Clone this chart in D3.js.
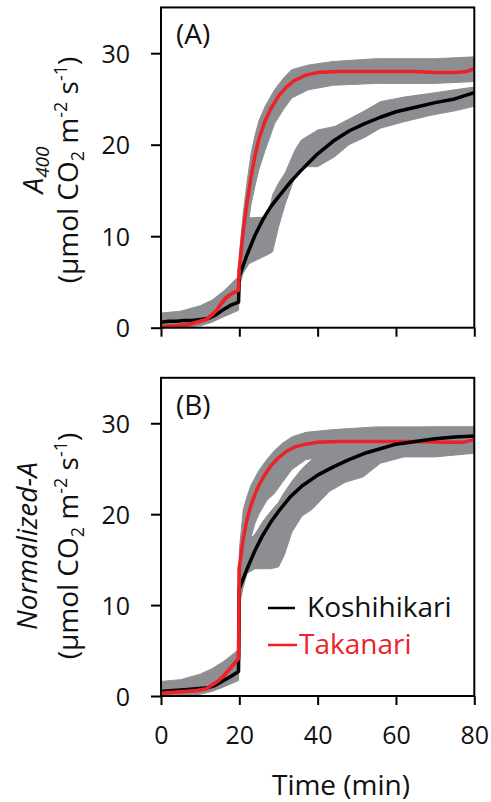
<!DOCTYPE html>
<html>
<head>
<meta charset="utf-8">
<script src="https://cdn.jsdelivr.net/npm/d3@7"></script>
<style>
  html, body { margin: 0; padding: 0; background: #fff; }
  svg { display: block; font-family: "Open Sans", "Liberation Sans", sans-serif; }
</style>
</head>
<body>
<svg id="chart" width="491" height="802"></svg>
<script>
// ---------------- DATA ----------------
const xTicks = [0, 20, 40, 60, 80];
const yTicks = [0, 10, 20, 30];
const seriesNames = ["Koshihikari", "Takanari"];

// Panel A: A400 — Koshihikari mean (time, value)
const koshiA_t = [0, 2, 4, 6, 8, 10, 12, 14, 16, 18, 19.8, 20, 22, 24, 26, 28, 30, 33, 36, 40, 44, 48, 52, 56, 60, 65, 70, 75, 80];
const koshiA_v = [0.6, 0.7, 0.7, 0.8, 0.8, 0.9, 1.0, 1.4, 2.0, 2.5, 2.8, 5.6, 8.0, 10.1, 11.8, 13.2, 14.3, 15.9, 17.3, 19.0, 20.4, 21.5, 22.3, 23.0, 23.6, 24.1, 24.6, 25.0, 25.7];
// Panel A: Koshihikari error band
const koshiBandA_t  = [0, 5, 10, 13, 16, 19.8, 20, 21, 22.5, 27.3, 28.5, 30, 31.7, 34.2, 35.8, 40, 44.4, 48, 52, 56, 62, 68.7, 75, 80];
const koshiBandA_lo = [0, 0, 0.2, 0.6, 1.2, 1.9, 4.5, 6.0, 7.0, 8.0, 8.3, 11.0, 13.5, 16.5, 17.6, 17.6, 18.7, 20.0, 20.8, 21.8, 22.5, 23.2, 23.7, 24.2];
const koshiBandA_hi = [1.6, 1.8, 2.4, 3.0, 4.0, 5.6, 7.0, 10.0, 12.0, 12.1, 14.5, 15.8, 16.9, 19.4, 20.5, 21.6, 22.0, 22.8, 23.7, 24.7, 25.2, 25.6, 26.0, 26.3];
// Panel A: Takanari mean
const takaA_t = [0, 3, 6.5, 9, 11.6, 13, 14.2, 15.5, 16.7, 18, 19.8, 20, 21, 22, 23, 24, 25, 26.5, 28, 30, 32, 34, 37, 40, 45, 50, 55, 60, 65, 70, 75, 78, 80];
const takaA_v = [0.1, 0.2, 0.3, 0.6, 0.9, 1.4, 1.9, 2.7, 3.3, 3.7, 4.1, 6.5, 10.5, 13.8, 16.5, 18.8, 20.6, 22.5, 23.9, 25.3, 26.3, 27.0, 27.6, 27.9, 28.0, 28.0, 28.0, 28.0, 28.0, 27.9, 27.9, 28.0, 28.3];
// Panel A: Takanari error band
const takaBandA_t  = [20, 21, 22, 23, 24, 25, 26.6, 29, 31.5, 33.4, 37.6, 44, 55, 70, 80];
const takaBandA_lo = [4.5, 7.5, 10.5, 13.5, 15.5, 17.3, 19.4, 22.3, 24.0, 25.1, 26.0, 26.5, 26.7, 26.7, 26.9];
const takaBandA_hi = [8.0, 12.5, 16.0, 19.0, 21.0, 22.6, 24.2, 26.0, 27.4, 28.2, 28.7, 29.1, 29.4, 29.4, 29.6];

// Panel B: Normalized-A — Koshihikari mean
const koshiB_t = [0, 3, 6, 9, 12, 14, 16, 18, 19.8, 20, 22, 24, 26, 28, 30, 33, 36, 40, 44, 48, 52, 56, 60, 65, 70, 75, 80];
const koshiB_v = [0.5, 0.6, 0.7, 0.8, 0.9, 1.2, 1.7, 2.2, 2.7, 11.8, 14.0, 16.0, 17.7, 19.1, 20.3, 21.9, 23.1, 24.3, 25.2, 26.0, 26.7, 27.2, 27.7, 28.0, 28.3, 28.5, 28.6];
// Panel B: Koshihikari error band
const koshiBandB_t  = [0, 5, 10, 13, 16, 19.8, 20, 21, 22, 24, 26, 28, 30, 31.5, 33.4, 36, 38.5, 43, 47, 51.6, 56, 62, 70, 80];
const koshiBandB_lo = [0, 0, 0.2, 0.5, 1.0, 1.7, 10.0, 12.0, 13.5, 14.0, 14.0, 14.0, 14.2, 15.5, 18.0, 19.8, 20.5, 22.5, 23.5, 24.1, 25.6, 26.3, 26.3, 26.7];
const koshiBandB_hi = [1.6, 1.8, 2.4, 3.0, 3.8, 5.1, 13.5, 15.5, 17.0, 17.8, 19.2, 20.3, 21.3, 22.4, 23.6, 25.0, 26.0, 27.0, 27.8, 28.5, 29.2, 29.5, 29.6, 29.6];
// Panel B: Takanari mean
const takaB_t = [0, 3, 6, 9, 11.6, 13, 14.5, 16, 18, 19.8, 20, 21, 22, 23, 24, 25, 26.6, 28, 30, 32, 34.2, 37, 40, 45, 55, 65, 72, 77, 80];
const takaB_v = [0.3, 0.4, 0.5, 0.6, 0.8, 1.2, 1.6, 2.2, 3.2, 4.1, 14.2, 17.3, 19.5, 21.0, 22.2, 23.2, 24.4, 25.3, 26.2, 26.9, 27.4, 27.7, 27.9, 28.0, 28.0, 28.0, 27.9, 27.9, 28.2];
// Panel B: Takanari error band
const takaBandB_t  = [20, 21, 22, 23, 24, 25, 27, 29, 31, 33.4, 37, 44, 55, 80];
const takaBandB_lo = [11.0, 13.5, 15.5, 17.5, 19.0, 20.0, 21.5, 22.3, 23.5, 24.9, 26.0, 26.5, 26.8, 26.8];
const takaBandB_hi = [16.0, 20.5, 22.0, 23.2, 24.0, 24.8, 26.0, 27.0, 27.8, 28.5, 29.0, 29.3, 29.6, 29.6];

// ---------------- STYLE ----------------
const RED = "#ec2227";
const BLACK = "#000000";
const GRAY = "#8d8e92";

const svg = d3.select("#chart");
const x = d3.scaleLinear().domain([0, 80]).range([161, 474.3]);

const zip = (t, v) => t.map((d, i) => [d, v[i]]);
const zipBand = (t, lo, hi) => t.map((d, i) => [d, lo[i], hi[i]]);

function panel(cfg) {
  const y = d3.scaleLinear().domain([0, 35]).range([cfg.bottom, cfg.top]);
  const g = svg.append("g");

  const area = d3.area().x(d => x(d[0])).y0(d => y(d[1])).y1(d => y(d[2]));
  const line = d3.line().x(d => x(d[0])).y(d => y(d[1]));

  // bands
  [cfg.koshiBand, cfg.takaBand].forEach(b => {
    g.append("path").datum(b).attr("d", area)
      .attr("fill", GRAY).attr("stroke", GRAY).attr("stroke-width", 1);
  });
  // lines
  g.append("path").datum(cfg.taka).attr("d", line)
    .attr("fill", "none").attr("stroke", RED).attr("stroke-width", 3.5).attr("stroke-linejoin", "round");
  g.append("path").datum(cfg.koshi).attr("d", line)
    .attr("fill", "none").attr("stroke", BLACK).attr("stroke-width", 3.5).attr("stroke-linejoin", "round");
  if (cfg.redOnTop) {
    g.append("path").datum(cfg.taka.filter(d => d[0] <= 20)).attr("d", line)
      .attr("fill", "none").attr("stroke", RED).attr("stroke-width", 3.5).attr("stroke-linejoin", "round");
  }

  // frame
  g.append("rect").attr("x", x(0)).attr("y", y(35))
    .attr("width", x(80) - x(0)).attr("height", y(0) - y(35))
    .attr("fill", "none").attr("stroke", "#000").attr("stroke-width", 2);

  // y axis
  const ya = g.append("g").attr("transform", `translate(${x(0)},0)`)
    .call(d3.axisLeft(y).tickValues(yTicks).tickSize(10).tickPadding(21).tickFormat(d3.format("d")));
  ya.select(".domain").remove();
  ya.selectAll("line").attr("stroke", "#000").attr("stroke-width", 2);
  ya.selectAll("text").attr("font-size", 25).attr("fill", "#111").attr("dy", "0.36em")
    .attr("font-family", "'Open Sans', sans-serif");

  // x axis
  const xa = g.append("g").attr("transform", `translate(0,${y(0)})`)
    .call(d3.axisBottom(x).tickValues(xTicks).tickSize(9).tickPadding(21).tickFormat(d3.format("d")));
  xa.select(".domain").remove();
  xa.selectAll("line").attr("stroke", "#000").attr("stroke-width", 2);
  xa.selectAll("text").attr("font-size", 25).attr("fill", "#111").attr("dy", "0.71em")
    .attr("font-family", "'Open Sans', sans-serif");
  if (!cfg.xLabels) xa.selectAll("text").remove();

  // panel label
  g.append("text").attr("x", 176).attr("y", cfg.top + 37)
    .attr("font-size", 28).attr("fill", "#111").text(cfg.tag);

  // y labels
  const cy = cfg.labelCenter;
  const l1 = g.append("text").attr("transform", `translate(${cfg.l1x},${cy}) rotate(-90)`)
    .attr("text-anchor", "middle").attr("font-size", 28).attr("fill", "#111");
  cfg.line1(l1);
  const l2 = g.append("text").attr("transform", `translate(78,${cy}) rotate(-90)`)
    .attr("text-anchor", "middle").attr("font-size", 28).attr("fill", "#111");
  l2.append("tspan").text("(µmol CO");
  l2.append("tspan").attr("font-size", 18).attr("dy", 6).text("2");
  l2.append("tspan").attr("dy", -6).text(" m");
  l2.append("tspan").attr("font-size", 18).attr("dy", -11).text("-2");
  l2.append("tspan").attr("dy", 11).text(" s");
  l2.append("tspan").attr("font-size", 18).attr("dy", -11).text("-1");
  l2.append("tspan").attr("dy", 11).text(")");
  return { g, y };
}

panel({
  top: 7.45, bottom: 327.7, tag: "(A)", xLabels: false, labelCenter: 170, l1x: 43,
  koshi: zip(koshiA_t, koshiA_v), taka: zip(takaA_t, takaA_v),
  koshiBand: zipBand(koshiBandA_t, koshiBandA_lo, koshiBandA_hi),
  takaBand: zipBand(takaBandA_t, takaBandA_lo, takaBandA_hi),
  redOnTop: true,
  line1: t => {
    t.append("tspan").attr("font-style", "italic").text("A");
    t.append("tspan").attr("font-style", "italic").attr("font-size", 19).attr("dy", 6).text("400");
  }
});

const pB = panel({
  top: 377.8, bottom: 696, tag: "(B)", xLabels: true, labelCenter: 546, l1x: 37,
  koshi: zip(koshiB_t, koshiB_v), taka: zip(takaB_t, takaB_v),
  koshiBand: zipBand(koshiBandB_t, koshiBandB_lo, koshiBandB_hi),
  takaBand: zipBand(takaBandB_t, takaBandB_lo, takaBandB_hi),
  redOnTop: true,
  line1: t => {
    t.append("tspan").attr("font-style", "italic").text("Normalized-A");
  }
});

// legend
const legendColors = [BLACK, RED];
const legendY = [608, 645];
const legendLine = [[268, 295], [268, 297]];
const legendTextX = [307, 299];
seriesNames.forEach((name, i) => {
  svg.append("line").attr("x1", legendLine[i][0]).attr("x2", legendLine[i][1])
    .attr("y1", legendY[i]).attr("y2", legendY[i])
    .attr("stroke", legendColors[i]).attr("stroke-width", 2.5);
  svg.append("text").attr("x", legendTextX[i]).attr("y", legendY[i] + 9)
    .attr("font-size", 28).attr("fill", i === 0 ? "#111" : RED).text(name);
});

// x axis title
svg.append("text").attr("x", 341).attr("y", 795).attr("text-anchor", "middle")
  .attr("font-size", 28).attr("fill", "#111").text("Time (min)");
</script>
</body>
</html>
